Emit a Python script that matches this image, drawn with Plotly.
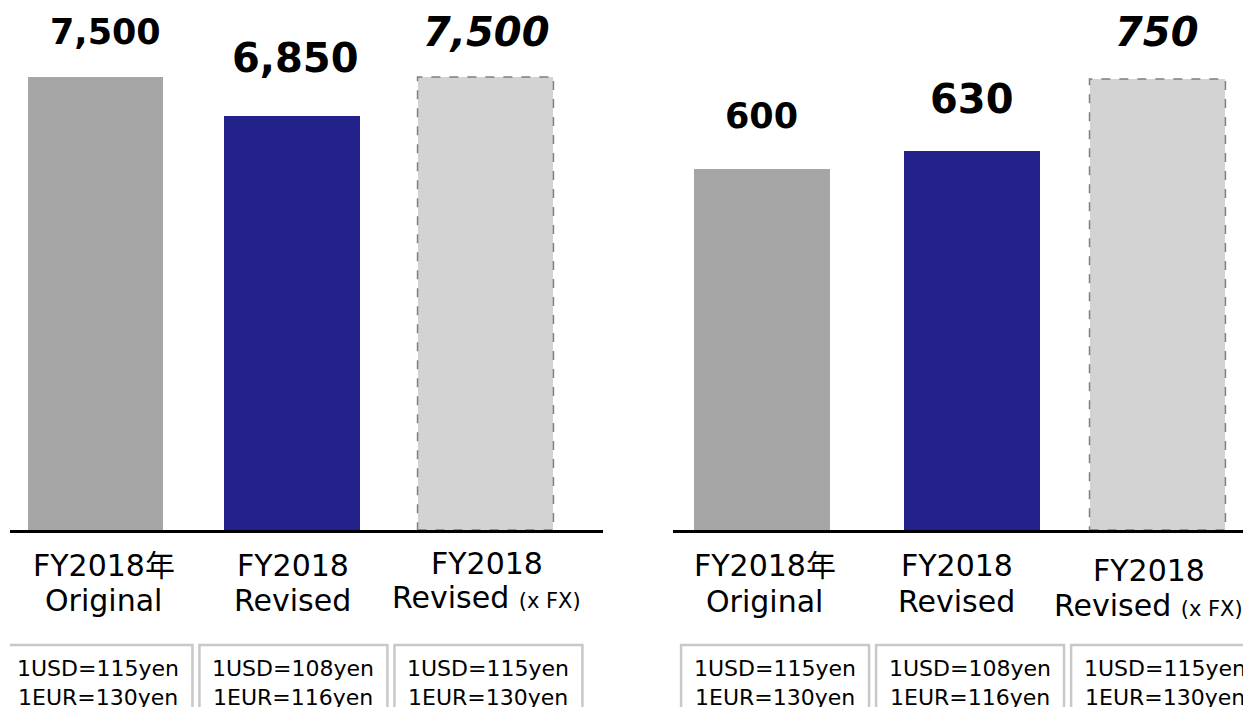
import plotly.graph_objects as go

# chart values
categories = ["Original", "Revised", "Revised (x FX)"]
label_top = ["FY2018年", "FY2018", "FY2018"]
label_bottom = ["Original", "Revised", "Revised <span style='font-size:21px'>(x FX)</span>"]
sales = [7500, 6850, 7500]
profit = [600, 630, 750]
usd_rates = [115, 108, 115]
eur_rates = [130, 116, 130]

# styles
bar_colors = ["#a6a6a6", "#22228a", "#d3d3d3"]
value_sizes = [35, 40, 40]
FONT = "DejaVu Sans, Noto Sans CJK JP, sans-serif"
PAGE_PAD = 8  # default body margin of the html page
W, H = 1251 - PAGE_PAD, 707 - PAGE_PAD
BASE_PX = 530
BAR_W = 0.697
CAT_PX = 195


def py(ry):
    """paper y from a pixel row of the page"""
    return (H - (ry - PAGE_PAD)) / H


def px(rx):
    return (rx - PAGE_PAD) / W


panels = [
    dict(
        vals=sales, xa="x", ya="y", xdom=[px(10), px(603)], xrng=[-0.4385, 2.6026],
        top=77, nudges=[0, 0.01, 0], lab_shift=[8, 2, 1],
        lab_rows=[(565, 600), (565, 600), (563, 597)],
        val_dy=[45, 58, 45], val_dx=[10, 5, 1], box_shift=0.015,
    ),
    dict(
        vals=profit, xa="x2", ya="y2", xdom=[px(673), 1.0], xrng=[-0.4615, 2.5026],
        top=79, nudges=[-0.005, 0.072, 0.023], lab_shift=[2, -1, -4],
        lab_rows=[(565, 601), (565, 601), (570, 605)],
        val_dy=[53, 52, 47], val_dx=[-1, 14, 4], box_shift=0.062,
    ),
]

fig = go.Figure()
shapes = []
annotations = []

for p in panels:
    vals = p["vals"]
    fig.add_trace(
        go.Bar(
            x=categories,
            y=vals,
            xaxis=p["xa"],
            yaxis=p["ya"],
            width=BAR_W,
            offset=[-BAR_W / 2 + n for n in p["nudges"]],
            marker=dict(color=bar_colors, line=dict(width=0)),
            showlegend=False,
            hoverinfo="skip",
        )
    )
    # dashed outline on the FX-adjusted bar
    n = p["nudges"][2]
    shapes.append(dict(
        type="rect", xref=p["xa"], yref=p["ya"],
        x0=categories[2], x1=categories[2],
        x0shift=-BAR_W / 2 + n, x1shift=BAR_W / 2 + n,
        y0=0, y1=vals[2],
        line=dict(color="#7f7f7f", width=1.5, dash="dash"),
        fillcolor="rgba(0,0,0,0)", layer="above",
    ))
    for i, c in enumerate(categories):
        txt = f"{vals[i]:,}"
        txt = f"<b><i>{txt}</i></b>" if i == 2 else f"<b>{txt}</b>"
        annotations.append(dict(
            x=c, y=vals[i], xref=p["xa"], yref=p["ya"], text=txt,
            showarrow=False, yanchor="middle", yshift=p["val_dy"][i],
            xshift=p["val_dx"][i],
            font=dict(family=FONT, size=value_sizes[i], color="black"),
        ))
        for row_text, row_y in zip((label_top[i], label_bottom[i]), p["lab_rows"][i]):
            annotations.append(dict(
                x=c, y=py(row_y), xref=p["xa"], yref="paper", text=row_text,
                showarrow=False, yanchor="middle", xshift=p["lab_shift"][i],
                font=dict(family=FONT, size=30, color="black"),
            ))
        # FX rate boxes
        shapes.append(dict(
            type="rect", xref=p["xa"], yref="paper",
            x0=c, x1=c, x0shift=-0.482 + p["box_shift"], x1shift=0.482 + p["box_shift"],
            y0=-0.1, y1=py(645),
            line=dict(color="#c8c8c8", width=2.5), fillcolor="white",
        ))
        for row_text, row_y in ((f"1USD={usd_rates[i]}yen", 668), (f"1EUR={eur_rates[i]}yen", 697)):
            annotations.append(dict(
                x=c, y=py(row_y), xref=p["xa"], yref="paper", text=row_text,
                showarrow=False, yanchor="middle", xshift=p["box_shift"] * CAT_PX,
                font=dict(family=FONT, size=22, color="black"),
            ))

axis_common = dict(showgrid=False, zeroline=False, showticklabels=False, ticks="")
fig.update_layout(
    width=W, height=H,
    margin=dict(l=0, r=0, t=0, b=0),
    paper_bgcolor="white", plot_bgcolor="white",
    bargap=0,
    xaxis=dict(domain=panels[0]["xdom"], range=panels[0]["xrng"], anchor="y",
               showline=True, linecolor="black", linewidth=2.5, **axis_common),
    yaxis=dict(domain=[py(BASE_PX), 1], range=[0, 7500 * (BASE_PX - PAGE_PAD) / (BASE_PX - 77)],
               anchor="x", visible=False),
    xaxis2=dict(domain=panels[1]["xdom"], range=panels[1]["xrng"], anchor="y2",
                showline=True, linecolor="black", linewidth=2.5, **axis_common),
    yaxis2=dict(domain=[py(BASE_PX), 1], range=[0, 750 * (BASE_PX - PAGE_PAD) / (BASE_PX - 79)],
                anchor="x2", visible=False),
    shapes=shapes,
    annotations=annotations,
)

fig.write_html("out.html")
